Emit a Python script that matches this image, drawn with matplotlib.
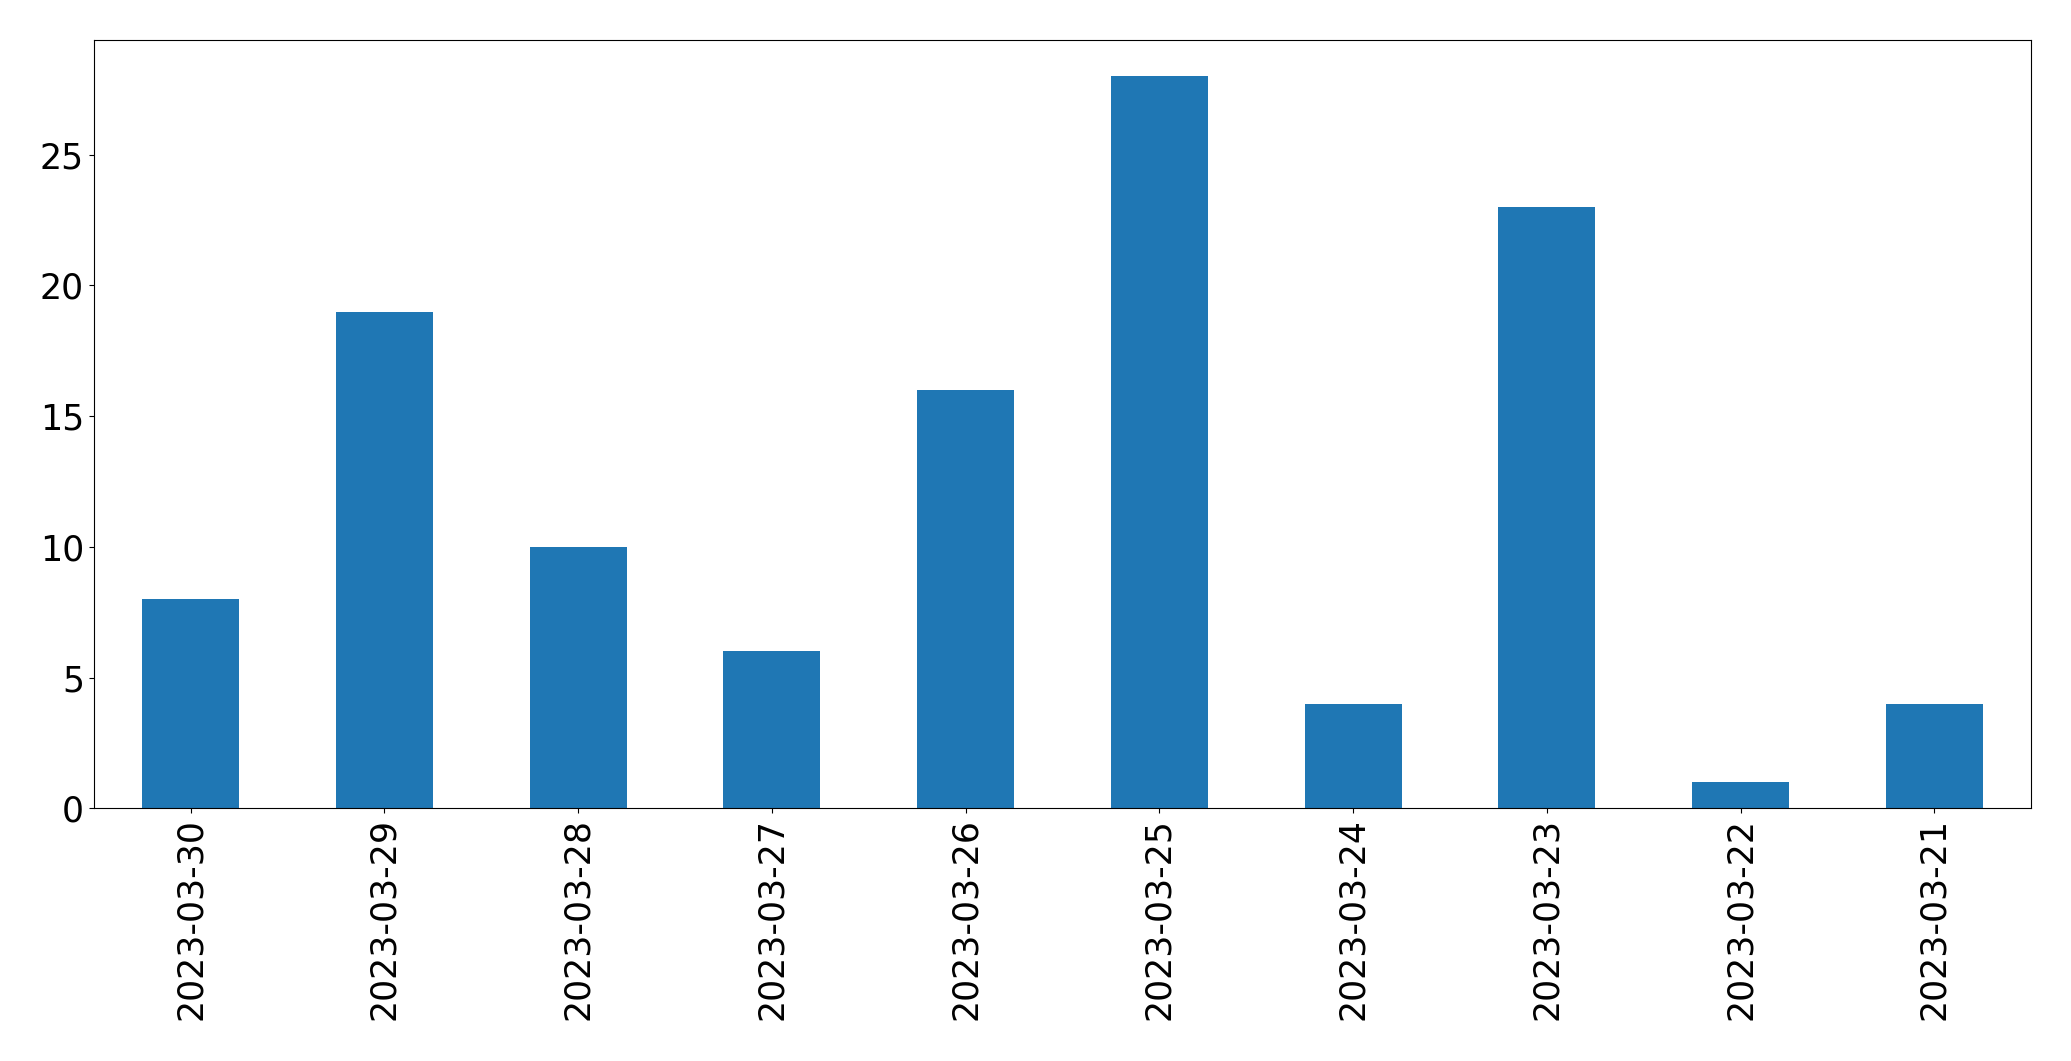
import matplotlib
matplotlib.use("Agg")
import matplotlib.pyplot as plt
import pandas as pd

dates = ["2023-03-30", "2023-03-29", "2023-03-28", "2023-03-27", "2023-03-26",
         "2023-03-25", "2023-03-24", "2023-03-23", "2023-03-22", "2023-03-21"]
counts = [8, 19, 10, 6, 16, 28, 4, 23, 1, 4]

s = pd.Series(counts, index=dates)

fig = plt.figure(figsize=(20.71, 10.61), dpi=100)
ax = fig.add_axes([0.0453, 0.2381, 0.9355, 0.7246])
s.plot(kind="bar", ax=ax, fontsize=25)

fig.savefig("out.png", dpi=100)
